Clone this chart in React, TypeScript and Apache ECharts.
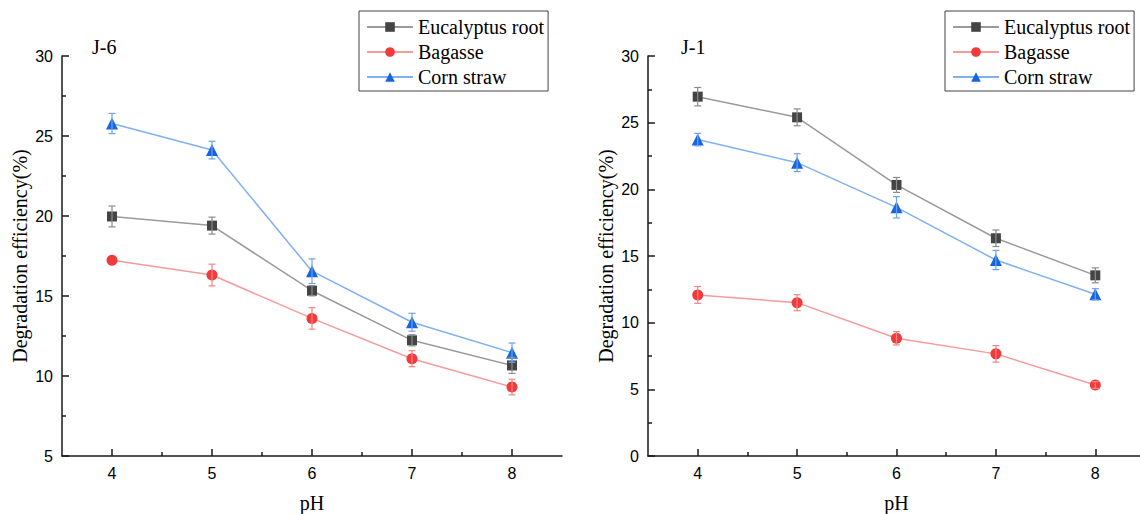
import React, { useEffect, useRef } from "react";
import * as echarts from "echarts";

const phValues = [4, 5, 6, 7, 8];
const seriesNames = ["Eucalyptus root", "Bagasse", "Corn straw"];
const xTickValues = [4, 5, 6, 7, 8];
const xMinorTickValues = [4.5, 5.5, 6.5, 7.5];

// J-6 panel
const j6Eucalyptus = [19.97, 19.4, 15.33, 12.23, 10.66];
const j6EucalyptusErr = [0.65, 0.53, 0.32, 0.35, 0.5];
const j6Bagasse = [17.23, 16.31, 13.6, 11.08, 9.31];
const j6BagasseErr = [0.0, 0.68, 0.67, 0.5, 0.49];
const j6Corn = [25.78, 24.12, 16.55, 13.36, 11.46];
const j6CornErr = [0.63, 0.55, 0.77, 0.56, 0.6];

// J-1 panel
const j1Eucalyptus = [26.95, 25.4, 20.33, 16.33, 13.55];
const j1EucalyptusErr = [0.69, 0.63, 0.56, 0.62, 0.56];
const j1Bagasse = [12.08, 11.5, 8.83, 7.66, 5.32];
const j1BagasseErr = [0.63, 0.6, 0.5, 0.62, 0.25];
const j1Corn = [23.73, 22.0, 18.65, 14.7, 12.13];
const j1CornErr = [0.47, 0.67, 0.8, 0.72, 0.42];

const markerColors = ["#444444", "#f23a3a", "#1565e0"];
const lineColors = ["#9a9a9a", "#f79a9a", "#7fb0f2"];
const errColors = ["#8c8c8c", "#f08585", "#6fa2ee"];
const symbols = ["rect", "circle", "triangle"];
const symbolSizes = [10, 11, 12];

const serif = "'Liberation Serif', 'Times New Roman', serif";
const sans = "'Liberation Sans', Arial, sans-serif";

function errorRender(color: string) {
  return (params: any, api: any) => {
    const x = api.value(0);
    const lo = api.value(1);
    const hi = api.value(2);
    if (hi - lo <= 0) return { type: "group", children: [] };
    const p1 = api.coord([x, lo]);
    const p2 = api.coord([x, hi]);
    const cw = 3.5;
    const style = { stroke: color, lineWidth: 1.2 };
    return {
      type: "group",
      children: [
        { type: "line", shape: { x1: p1[0], y1: p1[1], x2: p2[0], y2: p2[1] }, style },
        { type: "line", shape: { x1: p1[0] - cw, y1: p1[1], x2: p1[0] + cw, y2: p1[1] }, style },
        { type: "line", shape: { x1: p2[0] - cw, y1: p2[1], x2: p2[0] + cw, y2: p2[1] }, style },
      ],
    };
  };
}

export default function App() {
  const ref = useRef<HTMLDivElement>(null);

  useEffect(() => {
    if (!ref.current) return;
    const chart = echarts.init(ref.current, null, { renderer: "svg" });

    const panels = [
      { values: [j6Eucalyptus, j6Bagasse, j6Corn], errs: [j6EucalyptusErr, j6BagasseErr, j6CornErr], min: 5 },
      { values: [j1Eucalyptus, j1Bagasse, j1Corn], errs: [j1EucalyptusErr, j1BagasseErr, j1CornErr], min: 0 },
    ];

    const axisLine = { show: true, onZero: false, lineStyle: { color: "#1a1a1a", width: 1.5 } };
    const tickLine = { color: "#1a1a1a", width: 1.5 };

    const xAxis: any[] = [];
    const yAxis: any[] = [];
    const series: any[] = [];

    panels.forEach((p, gi) => {
      xAxis.push({
        type: "value",
        gridIndex: gi,
        position: "bottom",
        min: 3.5,
        max: 8.5,
        name: "pH",
        nameLocation: "middle",
        nameGap: 37,
        nameTextStyle: { fontFamily: serif, fontSize: 20, color: "#000" },
        axisLine,
        axisTick: { show: true, inside: true, length: 7, customValues: xTickValues, lineStyle: tickLine },
        axisLabel: { customValues: xTickValues, margin: 9, fontFamily: sans, fontSize: 16, color: "#000" },
        splitLine: { show: false },
      });
      xAxis.push({
        type: "value",
        gridIndex: gi,
        position: "bottom",
        min: 3.5,
        max: 8.5,
        axisLine: { show: false, onZero: false },
        axisTick: { show: true, inside: true, length: 4, customValues: xMinorTickValues, lineStyle: tickLine },
        axisLabel: { show: false },
        splitLine: { show: false },
      });
      yAxis.push({
        type: "value",
        gridIndex: gi,
        min: p.min,
        max: 30,
        interval: 5,
        name: "Degradation efficiency(%)",
        nameLocation: "middle",
        nameGap: 32,
        nameTextStyle: { fontFamily: serif, fontSize: 20, color: "#000" },
        axisLine,
        axisTick: { show: true, inside: true, length: 7, lineStyle: tickLine },
        minorTick: { show: true, splitNumber: 2, length: 4, lineStyle: tickLine },
        axisLabel: { margin: 9, fontFamily: sans, fontSize: 16, color: "#000" },
        splitLine: { show: false },
        minorSplitLine: { show: false },
      });

      p.values.forEach((vals, si) => {
        series.push({
          type: "line",
          name: seriesNames[si],
          xAxisIndex: gi * 2,
          yAxisIndex: gi,
          data: phValues.map((x, i) => [x, vals[i]]),
          symbol: symbols[si],
          symbolSize: symbolSizes[si],
          showSymbol: true,
          lineStyle: { color: lineColors[si], width: 1.5 },
          itemStyle: { color: markerColors[si] },
          z: 3,
        });
        series.push({
          type: "custom",
          name: seriesNames[si] + " error",
          xAxisIndex: gi * 2,
          yAxisIndex: gi,
          renderItem: errorRender(errColors[si]),
          data: phValues.map((x, i) => [x, vals[i] - p.errs[si][i], vals[i] + p.errs[si][i]]),
          encode: { x: 0, y: [1, 2] },
          z: 4,
          silent: true,
        });
      });
    });

    const legendBase = {
      orient: "vertical",
      data: seriesNames,
      itemWidth: 46,
      itemHeight: 12,
      itemGap: 5,
      borderColor: "#404040",
      borderWidth: 1,
      borderRadius: 0,
      padding: [6, 4, 4, 7],
      textStyle: { fontFamily: serif, fontSize: 20, color: "#000", lineHeight: 20 },
      selectedMode: false,
    };

    chart.setOption({
      animation: false,
      backgroundColor: "#ffffff",
      title: [
        { text: "J-6", left: 87, top: 32, textStyle: { fontFamily: serif, fontSize: 20, fontWeight: "normal", color: "#000" } },
        { text: "J-1", left: 676, top: 32, textStyle: { fontFamily: serif, fontSize: 20, fontWeight: "normal", color: "#000" } },
      ],
      legend: [
        { ...legendBase, left: 359, top: 11 },
        { ...legendBase, left: 945, top: 11 },
      ],
      grid: [
        { left: 62, top: 56, width: 500, height: 400, containLabel: false, outerBoundsMode: "none" },
        { left: 648, top: 56, width: 497, height: 400, containLabel: false, outerBoundsMode: "none" },
      ],
      xAxis,
      yAxis,
      series,
    });

    return () => chart.dispose();
  }, []);

  return (
    <div
      ref={ref}
      style={{ position: "fixed", left: 0, top: 0, width: 1140, height: 514, background: "#fff" }}
    />
  );
}
